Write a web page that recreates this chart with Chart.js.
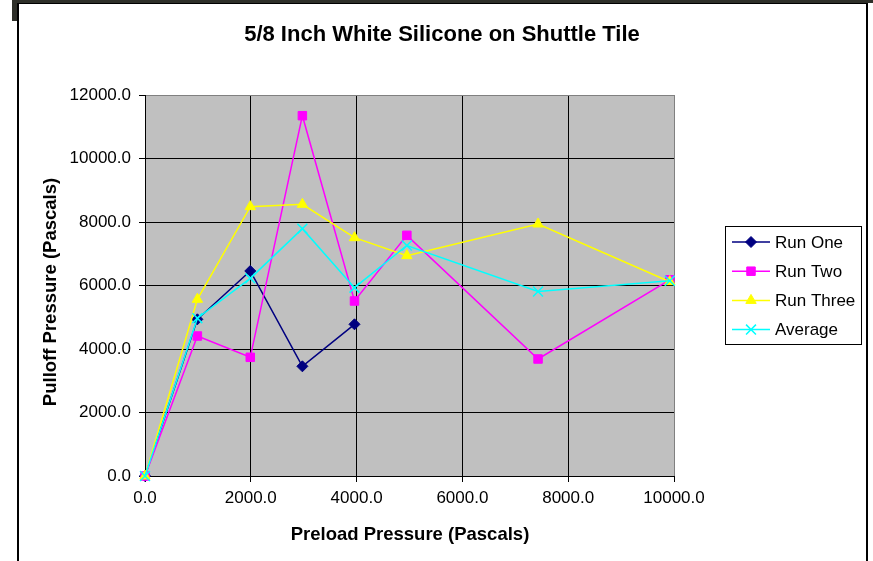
<!DOCTYPE html>
<html>
<head>
<meta charset="utf-8">
<title>5/8 Inch White Silicone on Shuttle Tile</title>
<script src="https://cdn.jsdelivr.net/npm/chart.js@4/dist/chart.umd.min.js"></script>
<style>
  body { margin: 0; background: #fff; }
  #wrap { position: relative; width: 873px; height: 561px; overflow: hidden; }
  #topStrip { position: absolute; left: 12px; top: 0; width: 861px; height: 3px; background: #2e2f29; }
  #leftBlock { position: absolute; left: 12px; top: 0; width: 6px; height: 21px; background: #2e2f29; }
  #frame { position: absolute; left: 17px; top: 3px; width: 847px; height: 600px;
           border-left: 2px solid #000; border-top: 1px solid #000; border-right: 2px solid #000; }
  #myChart { position: absolute; left: 0; top: 0; }
</style>
</head>
<body>
<div id="wrap">
  <div id="topStrip"></div>
  <div id="leftBlock"></div>
  <div id="frame"></div>
  <canvas id="myChart" width="873" height="561"></canvas>
</div>
<script>
// preload pressures (Pa) shared by every run
const preload = [0, 990, 1990, 2975, 3960, 4950, 7430, 9920];

// pulloff pressures (Pa)
const runOne = [0, 4935, 6457, 3455, 4778];
const runTwo = [0, 4409, 3738, 11348, 5512, 7580, 3685, 6180];
const runThree = [0, 5565, 8483, 8557, 7506, 6940, 7937, 6120];
const average = [0, 4970, 6226, 7790, 5932, 7260, 5811, 6150];

const seriesNames = ['Run One', 'Run Two', 'Run Three', 'Average'];
const xTicks = [0, 2000, 4000, 6000, 8000, 10000];
const yTicks = [0, 2000, 4000, 6000, 8000, 10000, 12000];

const FONT = '"Liberation Sans", Arial, sans-serif';

const styles = [
  { color: '#000080', pointStyle: 'rectRot', radius: 5.5, borderWidth: 1 },
  { color: '#ff00ff', pointStyle: 'rect', radius: 6, borderWidth: 1 },
  { color: '#ffff00', pointStyle: 'triangle', radius: 6, borderWidth: 1 },
  { color: '#00ffff', pointStyle: 'crossRot', radius: 7, borderWidth: 1.5 }
];

function toPoints(ys) {
  return ys.map((y, i) => ({ x: preload[i], y: y }));
}

// later series sit on top of earlier ones
const datasets = [runOne, runTwo, runThree, average].map((ys, i) => ({
  label: seriesNames[i],
  data: toPoints(ys),
  order: 3 - i,
  showLine: true,
  borderColor: styles[i].color,
  backgroundColor: styles[i].color,
  borderWidth: 1.5,
  pointStyle: styles[i].pointStyle,
  pointRadius: styles[i].radius,
  pointBorderWidth: styles[i].borderWidth,
  pointBorderColor: styles[i].color,
  pointBackgroundColor: styles[i].color,
  clip: false
}));

// grey plot background, titles and the boxed legend
const excelLook = {
  id: 'excelLook',
  beforeDraw(chart) {
    const { ctx, chartArea: a } = chart;
    ctx.save();
    ctx.fillStyle = '#c0c0c0';
    ctx.fillRect(a.left, a.top, a.right - a.left, a.bottom - a.top);
    ctx.restore();
  },
  afterDraw(chart) {
    const { ctx } = chart;
    ctx.save();
    ctx.fillStyle = '#000';
    ctx.textAlign = 'center';
    ctx.textBaseline = 'middle';

    ctx.font = 'bold 22px ' + FONT;
    ctx.fillText('5/8 Inch White Silicone on Shuttle Tile', 442, 35);

    ctx.font = 'bold 18.5px ' + FONT;
    ctx.fillText('Preload Pressure (Pascals)', 410, 535);

    ctx.save();
    ctx.translate(51, 292);
    ctx.rotate(-Math.PI / 2);
    ctx.fillText('Pulloff Pressure (Pascals)', 0, 0);
    ctx.restore();

    // legend
    ctx.fillStyle = '#fff';
    ctx.fillRect(725, 226, 136, 118);
    ctx.strokeStyle = '#000';
    ctx.lineWidth = 1;
    ctx.strokeRect(725.5, 226.5, 136, 118);

    ctx.font = '17px ' + FONT;
    ctx.textAlign = 'left';
    chart.data.datasets.forEach((ds, i) => {
      const y = 242 + i * 29.2;
      ctx.strokeStyle = ds.borderColor;
      ctx.lineWidth = 1.5;
      ctx.beginPath();
      ctx.moveTo(732, y);
      ctx.lineTo(770, y);
      ctx.stroke();
      ctx.fillStyle = ds.pointBackgroundColor;
      ctx.strokeStyle = ds.pointBorderColor;
      ctx.lineWidth = ds.pointBorderWidth;
      Chart.helpers.drawPoint(ctx, {
        pointStyle: ds.pointStyle, radius: ds.pointRadius, rotation: 0, borderWidth: ds.pointBorderWidth
      }, 751, y);
      ctx.fillStyle = '#000';
      ctx.fillText(ds.label, 775, y + 1);
    });
    ctx.restore();
  }
};

new Chart(document.getElementById('myChart'), {
  type: 'scatter',
  data: { datasets: datasets },
  options: {
    responsive: false,
    animation: false,
    devicePixelRatio: 1,
    layout: { padding: { left: 0, top: 95, right: 199, bottom: 0 } },
    plugins: {
      legend: { display: false },
      title: { display: false },
      tooltip: { enabled: false }
    },
    scales: {
      x: {
        type: 'linear',
        min: 0,
        max: 10000,
        afterBuildTicks: s => { s.ticks = xTicks.map(v => ({ value: v })); },
        afterFit: s => { s.height = 85; },
        ticks: {
          color: '#000',
          font: { family: FONT, size: 17 },
          padding: 6,
          maxRotation: 0,
          callback: v => v.toFixed(1)
        },
        grid: {
          color: ctx => (ctx.tick && ctx.tick.value === 10000 ? '#808080' : '#000'),
          lineWidth: 1,
          tickLength: 6,
          tickColor: '#000'
        },
        border: { color: '#000', width: 1 }
      },
      y: {
        type: 'linear',
        min: 0,
        max: 12000,
        afterBuildTicks: s => { s.ticks = yTicks.map(v => ({ value: v })); },
        afterFit: s => { s.width = 145; },
        ticks: {
          color: '#000',
          font: { family: FONT, size: 17 },
          padding: 8,
          callback: v => v.toFixed(1)
        },
        grid: {
          color: ctx => (ctx.tick && ctx.tick.value === 12000 ? '#808080' : '#000'),
          lineWidth: 1,
          tickLength: 6,
          tickColor: '#000'
        },
        border: { color: '#000', width: 1 }
      }
    }
  },
  plugins: [excelLook]
});
</script>
</body>
</html>
